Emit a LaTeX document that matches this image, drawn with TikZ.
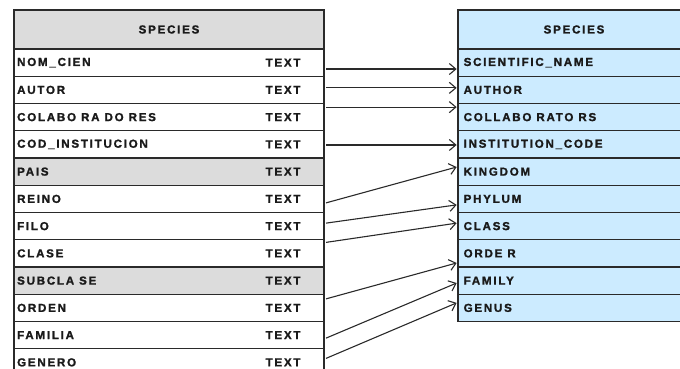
\documentclass[tikz,border=0pt]{standalone}
\usepackage{fontspec}
\newfontfamily\tabfont{Liberation Sans}[UprightFont={* Bold},LetterSpace=15,FakeBold=1.4]
\usetikzlibrary{arrows.meta}
\definecolor{hdrgray}{HTML}{DCDCDC}
\definecolor{rowblue}{HTML}{CCEBFF}
\definecolor{edge}{HTML}{2A2A2A}
\definecolor{ink}{HTML}{1A1A1A}
\begin{document}
\begin{tikzpicture}[x=1pt,y=-1pt,
  cell/.style={draw=edge,line width=1.1pt,rectangle,inner sep=0pt,
    minimum height=27.25pt},
  lcell/.style={cell,minimum width=310pt},
  rcell/.style={cell,minimum width=232pt,fill=rowblue},
  hdr/.style={cell,minimum height=39pt},
  txt/.style={inner sep=0pt,anchor=west,text=ink,
    font=\tabfont\fontsize{11.6}{13}\selectfont},
  title/.style={inner sep=0pt,text=ink,
    font=\tabfont\fontsize{11.6}{13}\selectfont},
  link/.style={draw=edge,line width=1.1pt,
    -{Straight Barb[length=6.5pt,width=11pt,line width=1.1pt]}}]
\useasboundingbox (0,0) rectangle (680,369);
\clip (0,0) rectangle (680,369);

% source table
\node[hdr,lcell,minimum height=39pt,fill=hdrgray] (lh) at (169,29.5) {};
\node[title] (lht) at (lh.center) {SPECIES};
\foreach \name/\fc [count=\i] in {NOM\_CIEN/white,AUTOR/white,
    COLABO RA DO RES/white,COD\_INSTITUCION/white,PAIS/hdrgray,
    REINO/white,FILO/white,CLASE/white,SUBCLA SE/hdrgray,
    ORDEN/white,FAMILIA/white,GENERO/white}{
  \node[lcell,fill=\fc] (l\i) at (169,{49+27.25*(\i-0.5)}) {};
  \node[txt] (ln\i) at ([xshift=3.5pt]l\i.west) {\name};
  \node[txt] (lt\i) at ([xshift=252pt]l\i.west) {TEXT};
}

% target table
\node[hdr,rcell,minimum height=39pt] (rh) at (574,29.5) {};
\node[title] (rht) at (rh.center) {SPECIES};
\foreach \name [count=\i] in {SCIENTIFIC\_NAME,AUTHOR,COLLABO RATO RS,
    INSTITUTION\_CODE,KINGDOM,PHYLUM,CLASS,ORDE R,FAMILY,GENUS}{
  \node[rcell] (r\i) at (574,{49+27.25*(\i-0.5)}) {};
  \node[txt] (rn\i) at ([xshift=6pt]r\i.west) {\name};
}

% column mappings
\foreach \a/\da/\b/\db in {1/-6.4/1/-6.4, 2/2/2/2, 3/10/3/10,
    4/-0.6/4/-0.6, 6/-4/5/4.6, 7/3/6/-6, 8/11/7/3,
    10/9/8/-9.6, 11/-3/9/-2.4, 12/4/10/5}{
  \draw[link] ([xshift=1.5pt,yshift=\da pt]l\a.east)
    -- ([xshift=-0.8pt,yshift=\db pt]r\b.west);
}
\end{tikzpicture}
\end{document}
